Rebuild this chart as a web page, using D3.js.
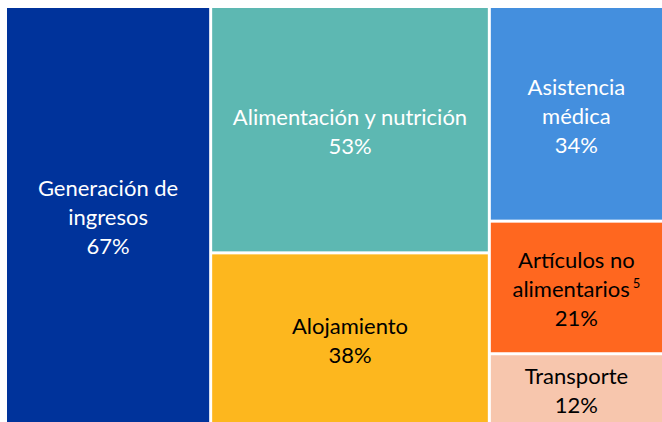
<!DOCTYPE html>
<html>
<head>
<meta charset="utf-8">
<script src="https://cdn.jsdelivr.net/npm/d3@7"></script>
<style>
  body { margin: 0; background: #ffffff; overflow: hidden; }
  svg { display: block; }
</style>
</head>
<body>
<div id="vis"></div>
<script>
// chart data
var categories = [
    "Generación de|ingresos",
    "Alimentación y nutrición",
    "Alojamiento",
    "Asistencia|médica",
    "Artículos no|alimentarios",
    "Transporte"
];
var values = [67, 53, 38, 34, 21, 12];
var columns = [0, 1, 1, 2, 2, 2];   // which column of the treemap each block sits in
var notes = ["", "", "", "", "5", ""];
var colors = ["#00339b", "#5db8b2", "#fdb71e", "#448fde", "#ff671f", "#f7c6ad"];
var textColors = ["#ffffff", "#ffffff", "#000000", "#ffffff", "#000000", "#000000"];

/* ****** Size ****** */
var width = 662;
var height = 422;
var margin = { top: 8, left: 7 };
// the treemap runs a bit past the right and bottom edge of the window
var mapWidth = 686;
var mapHeight = 420;

var svg = d3.select("#vis")
    .append("svg")
    .attr("width", width)
    .attr("height", height);

var g = svg.append("g")
    .attr("transform", "translate(" + margin.left + "," + margin.top + ")");

/* ****** Build hierarchy ****** */
var cols = d3.groups(d3.range(categories.length), function (i) { return columns[i]; });
var root = d3.hierarchy({
        children: cols.map(function (c) {
            return { children: c[1].map(function (i) { return { i: i, value: values[i] }; }) };
        })
    })
    .sum(function (d) { return d.value || 0; });

d3.treemap()
    .tile(d3.treemapSliceDice)
    .size([mapWidth, mapHeight])
    .paddingInner(3)
    .round(false)(root);

var leaves = root.leaves();

/* ****** Tiles ****** */
g.selectAll("rect")
    .data(leaves)
    .enter()
    .append("rect")
    .attr("x", function (d) { return d.x0; })
    .attr("y", function (d) { return d.y0; })
    .attr("width", function (d) { return d.x1 - d.x0; })
    .attr("height", function (d) { return d.y1 - d.y0; })
    .attr("fill", function (d) { return colors[d.data.i]; });

/* ****** Labels ****** */
var fontSize = 22;
var lineH = 29;

var labels = g.selectAll("text")
    .data(leaves)
    .enter()
    .append("text")
    .attr("text-anchor", "middle")
    .style("font-family", "Lato, 'Open Sans', sans-serif")
    .style("font-size", fontSize + "px")
    .attr("fill", function (d) { return textColors[d.data.i]; })
    .each(function (d) {
        var i = d.data.i;
        var lines = categories[i].split("|").concat([values[i] + "%"]);
        // centre on the part of the tile that is inside the window
        var right = Math.min(d.x1, width - margin.left);
        var bottom = Math.min(d.y1, height - margin.top);
        var cx = (d.x0 + right) / 2;
        var cy = (d.y0 + bottom) / 2 + 2;
        var first = cy - (lines.length - 1) * lineH / 2 + 8;
        var t = d3.select(this);
        lines.forEach(function (line, k) {
            var ts = t.append("tspan")
                .attr("x", cx)
                .attr("y", first + k * lineH)
                .text(line);
            if (k == lines.length - 2 && notes[i]) {
                ts.append("tspan")
                    .style("font-size", "13px")
                    .attr("dx", 3)
                    .attr("dy", -9)
                    .text(notes[i]);
            }
        });
    });
</script>
</body>
</html>
